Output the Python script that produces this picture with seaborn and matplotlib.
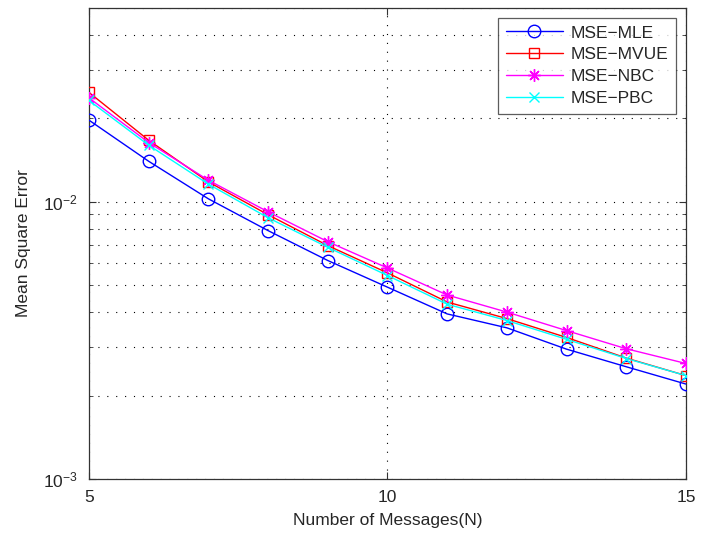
import numpy as np
import pandas as pd
import matplotlib
matplotlib.use("Agg")
import matplotlib.pyplot as plt
import seaborn as sns
from matplotlib.ticker import LogLocator, NullFormatter, FixedLocator

# ---- data ----
n_messages = [5, 6, 7, 8, 9, 10, 11, 12, 13, 14, 15]
mse_mle = [0.0197, 0.0140, 0.01025, 0.00787, 0.00614, 0.00492, 0.00394, 0.00351, 0.00294, 0.00254, 0.00220]
mse_mvue = [0.0248, 0.01667, 0.0118, 0.00898, 0.00695, 0.00554, 0.00435, 0.00379, 0.00324, 0.00273, 0.00236]
mse_nbc = [0.0237, 0.01636, 0.01196, 0.0092, 0.00718, 0.00577, 0.00461, 0.00400, 0.00343, 0.00295, 0.00261]
mse_pbc = [0.0232, 0.0160, 0.01158, 0.00876, 0.00685, 0.00542, 0.00427, 0.00373, 0.00319, 0.00272, 0.00236]
series_names = ["MSE\u2212MLE", "MSE\u2212MVUE", "MSE\u2212NBC", "MSE\u2212PBC"]
x_ticks = [5, 10, 15]

sns.set_style("ticks")
plt.rcParams['font.family'] = ['Liberation Sans', 'DejaVu Sans']
plt.rcParams['mathtext.fontset'] = 'custom'
plt.rcParams['mathtext.rm'] = 'Liberation Sans'
plt.rcParams['mathtext.it'] = 'Liberation Sans:italic'

fig = plt.figure(figsize=(7.09, 5.35), dpi=100)
ax = fig.add_axes([0.1255, 0.1047, 0.842, 0.8803])

styles = [
    dict(color="#0000ff", marker="o", ms=9),
    dict(color="#ff0000", marker="s", ms=7.5),
    dict(color="#ff00ff", marker=(8, 2, 0), ms=9),
    dict(color="#00ffff", marker="x", ms=7),
]
all_values = [mse_mle, mse_mvue, mse_nbc, mse_pbc]
for name, vals, st in zip(series_names, all_values, styles):
    df = pd.DataFrame({"N": n_messages, "MSE": vals})
    sns.lineplot(data=df, x="N", y="MSE", ax=ax, color=st["color"], marker=st["marker"],
                 markersize=st["ms"], markerfacecolor="none", markeredgecolor=st["color"],
                 markeredgewidth=1.0, linewidth=1.0, label=name, zorder=3)

ax.set_yscale("log")
ax.set_xlim(5, 15)
ax.set_ylim(1e-3, 5e-2)
ax.xaxis.set_major_locator(FixedLocator(x_ticks))
ax.yaxis.set_major_locator(LogLocator(base=10, numticks=10))
ax.yaxis.set_minor_locator(LogLocator(base=10, subs=np.arange(2, 10), numticks=20))
ax.yaxis.set_minor_formatter(NullFormatter())

grid_style = dict(color="black", linestyle=(0, (1, 7)), linewidth=0.8)
ax.grid(True, which="major", axis="both", **grid_style)
ax.grid(True, which="minor", axis="y", **grid_style)

ax.tick_params(which="both", direction="in", top=True, right=True, labelsize=12.5,
               color="#333333", pad=8)
ax.tick_params(which="major", length=5)
ax.tick_params(which="minor", length=3)
for s in ax.spines.values():
    s.set_linewidth(0.9)
    s.set_color("#333333")

ax.set_xlabel("Number of Messages(N)", fontsize=12.5, labelpad=6)
ax.set_ylabel("Mean Square Error", fontsize=12.5, labelpad=9)

leg = ax.legend(loc="upper right", fontsize=12.5, frameon=True, fancybox=False,
                edgecolor="#333333", handlelength=3.3, handletextpad=0.45,
                borderpad=0.45, labelspacing=0.38, borderaxespad=0.55)
leg.get_frame().set_linewidth(0.9)

fig.savefig("out.png", dpi=100)
